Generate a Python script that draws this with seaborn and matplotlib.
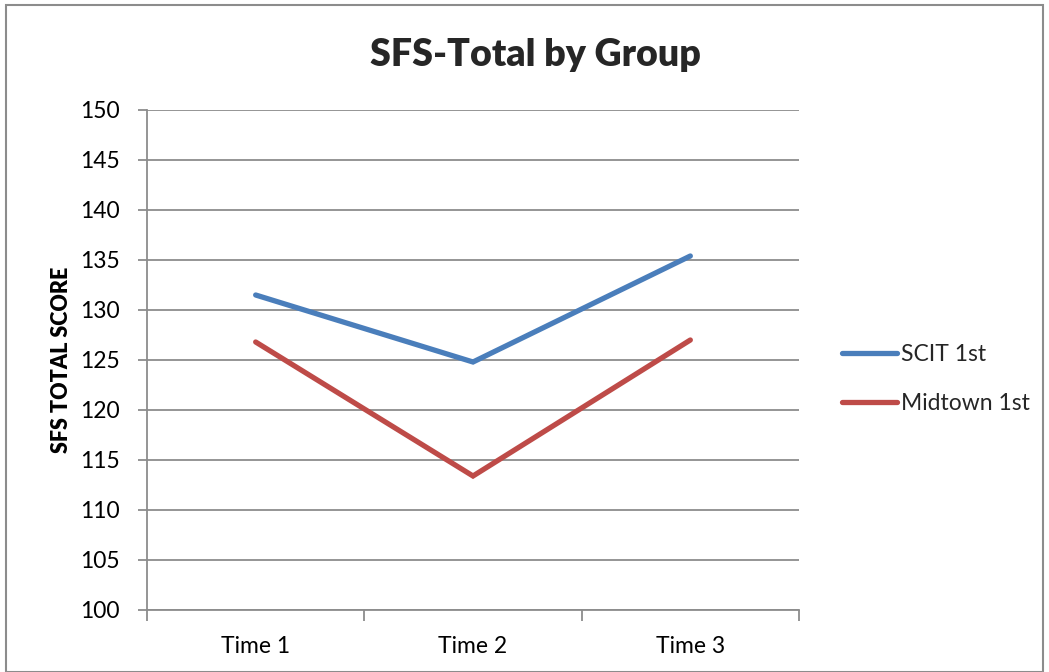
import matplotlib
matplotlib.use("Agg")
import matplotlib.pyplot as plt
import seaborn as sns
import pandas as pd
from matplotlib.patches import Rectangle

# Data
times = ["Time 1", "Time 2", "Time 3"]
scit_1st = [131.5, 124.8, 135.4]
midtown_1st = [126.8, 113.4, 127.0]
group_names = ["SCIT 1st", "Midtown 1st"]
y_ticks = [100, 105, 110, 115, 120, 125, 130, 135, 140, 145, 150]

df = pd.DataFrame({
    "Time": times * 2,
    "Score": scit_1st + midtown_1st,
    "Group": [group_names[0]] * 3 + [group_names[1]] * 3,
})

sns.set_theme(style="white")
plt.rcParams["font.family"] = ["Lato", "DejaVu Sans"]

fig = plt.figure(figsize=(10.49, 6.72), dpi=100)
ax = fig.add_axes([147 / 1049, 1 - 610 / 672, (799 - 147) / 1049, 500 / 672])

palette = {"SCIT 1st": "#4A7EBB", "Midtown 1st": "#BE4B48"}
sns.lineplot(data=df, x="Time", y="Score", hue="Group", palette=palette,
             linewidth=3.8, sort=False, ax=ax, legend=False,
             solid_capstyle="round", solid_joinstyle="miter")

ax.set_xlim(-0.5, 2.5)
ax.set_ylim(100, 150)
ax.set_yticks(y_ticks)
ax.set_yticklabels([str(v) for v in y_ticks], fontsize=16.5)
ax.set_xticks([0, 1, 2])
ax.set_xticklabels(times, fontsize=16.5)
ax.set_xticks([-0.5, 0.5, 1.5, 2.5], minor=True)

grid_color = "#8C8C8C"
ax.yaxis.grid(True, color=grid_color, linewidth=1.3)
ax.set_axisbelow(True)
for side in ["top", "right"]:
    ax.spines[side].set_visible(False)
for side in ["left", "bottom"]:
    ax.spines[side].set_color(grid_color)
    ax.spines[side].set_linewidth(1.3)

ax.tick_params(axis="y", which="major", left=True, length=6.5, width=1.3,
               color=grid_color, pad=13, labelcolor="black")
ax.tick_params(axis="x", which="major", bottom=False, pad=13, labelcolor="black")
ax.tick_params(axis="x", which="minor", bottom=True, length=8, width=1.3,
               color=grid_color)

ax.set_xlabel("")
ax.set_ylabel("SFS TOTAL SCORE", fontsize=15.5, fontweight="heavy",
              labelpad=6, color="black")

fig.text(535 / 1049, 1 - 55 / 672, "SFS-Total by Group", fontsize=27,
         fontweight="heavy", ha="center", va="center")

# Legend entries to the right of the plot
handles = [plt.Line2D([0], [0], color=palette[g], linewidth=3.8,
                      solid_capstyle="round") for g in group_names]
fig.legend(handles, group_names, loc="center left",
           bbox_to_anchor=(821 / 1049, 1 - 379 / 672), frameon=False,
           fontsize=16.5, handlelength=2.4, handletextpad=0.2,
           labelspacing=1.2)

# Chart area border
fig.patches.append(Rectangle((6 / 1049, 0), 1037 / 1049, 1 - 5 / 672,
                             transform=fig.transFigure, fill=False,
                             edgecolor="#8C8C8C", linewidth=1.5))

fig.savefig("out.png", dpi=100)
